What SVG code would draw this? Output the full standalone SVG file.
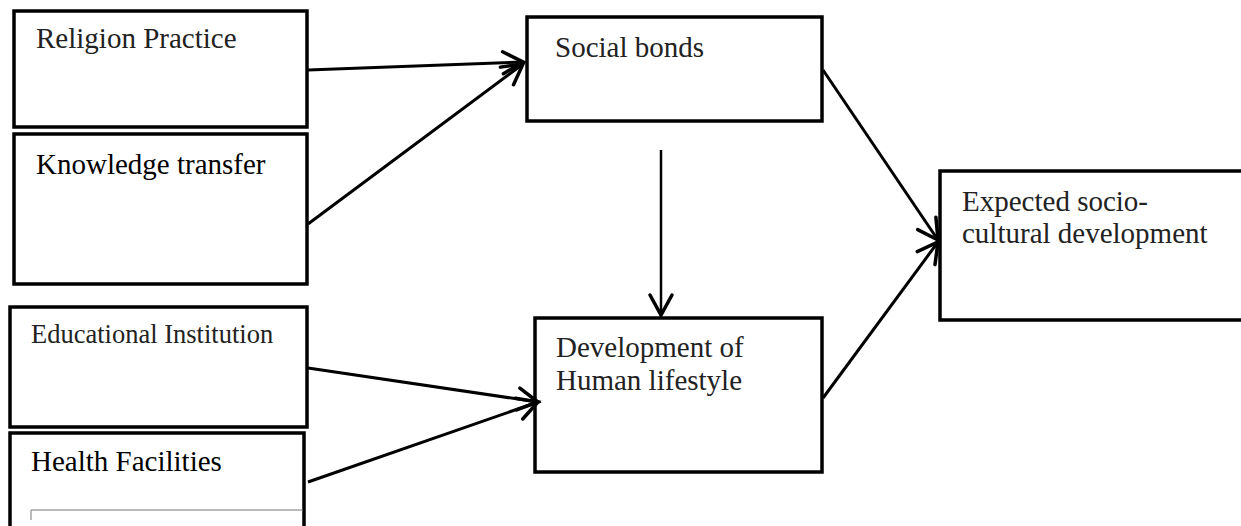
<svg xmlns="http://www.w3.org/2000/svg" width="1241" height="526" viewBox="0 0 1241 526">
  <defs>
    <style>
      .box { fill: #fff; stroke: #000; stroke-width: 3.5; }
      .lbl { font-family: "Liberation Serif", "Times New Roman", serif; font-size: 29px; fill: #222; }
      .conn { stroke: #000; stroke-width: 3; fill: none; marker-end: url(#arr); }
    </style>
    <marker id="arr" markerUnits="userSpaceOnUse" viewBox="-26 -15 30 30" markerWidth="30" markerHeight="30" refX="0" refY="0" orient="auto" overflow="visible">
      <path d="M-20,-11 L0,0 L-20,11" fill="none" stroke="#000" stroke-width="3.5" stroke-linecap="round" stroke-linejoin="miter"/>
    </marker>
  </defs>
  <rect width="1241" height="526" fill="#fff"/>

  <g id="religion">
    <rect class="box" x="14" y="11" width="293" height="116"/>
    <text class="lbl" x="36" y="48">Religion Practice</text>
  </g>
  <g id="knowledge">
    <rect class="box" x="14" y="134" width="293" height="150"/>
    <text class="lbl" x="36" y="174" fill="#000" style="fill:#000">Knowledge transfer</text>
  </g>
  <g id="educational">
    <rect class="box" x="10" y="307" width="297" height="120"/>
    <text class="lbl" x="31" y="343" style="font-size:26.5px">Educational Institution</text>
  </g>
  <g id="health">
    <rect class="box" x="10" y="433" width="294" height="110"/>
    <text class="lbl" x="31" y="471" style="fill:#000">Health Facilities</text>
    <path d="M31,520 L31,510 L303,510" fill="none" stroke="#777" stroke-width="1"/>
  </g>
  <g id="social">
    <rect class="box" x="527" y="17" width="295" height="104"/>
    <text class="lbl" x="555" y="57">Social bonds</text>
  </g>
  <g id="development">
    <rect class="box" x="535" y="318" width="287" height="154"/>
    <text class="lbl" x="556" y="357">Development of</text>
    <text class="lbl" x="556" y="390">Human lifestyle</text>
  </g>
  <g id="expected">
    <rect class="box" x="940" y="171" width="320" height="149"/>
    <text class="lbl" x="962" y="211">Expected socio-</text>
    <text class="lbl" x="962" y="243">cultural development</text>
  </g>

  <g id="connectors">
    <line class="conn" x1="308" y1="70" x2="523" y2="62"/>
    <line class="conn" x1="308" y1="224" x2="523" y2="64"/>
    <line class="conn" x1="308" y1="368" x2="538" y2="402"/>
    <line class="conn" x1="308" y1="482" x2="538" y2="402"/>
    <line class="conn" x1="661" y1="150" x2="661" y2="315" style="stroke-width:2.5"/>
    <line class="conn" x1="823" y1="70" x2="938" y2="240"/>
    <line class="conn" x1="823" y1="398" x2="938" y2="242"/>
  </g>
</svg>
